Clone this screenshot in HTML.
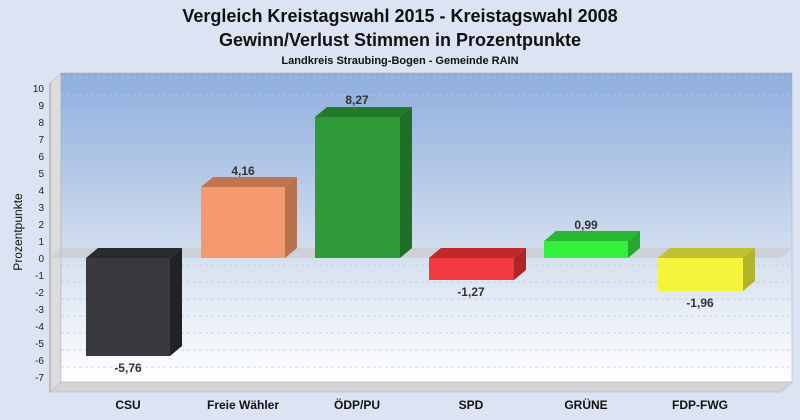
<!DOCTYPE html><html><head><meta charset="utf-8"><style>body{margin:0;background:#dce3f2}svg{display:block;font-family:"Liberation Sans",Arial,sans-serif}</style></head><body>
<svg width="800" height="420" viewBox="0 0 800 420">
<defs><linearGradient id="bg" x1="0" y1="0" x2="0" y2="1"><stop offset="0" stop-color="#8daddd"/><stop offset="0.6" stop-color="#d5e0f0"/><stop offset="1" stop-color="#ffffff"/></linearGradient></defs>
<rect width="800" height="420" fill="#dce3f2"/>
<text x="400" y="22" text-anchor="middle" font-size="18" font-weight="bold" fill="#111">Vergleich Kreistagswahl 2015 - Kreistagswahl 2008</text>
<text x="400" y="46" text-anchor="middle" font-size="18" font-weight="bold" fill="#111">Gewinn/Verlust Stimmen in Prozentpunkte</text>
<text x="400" y="64" text-anchor="middle" font-size="11" font-weight="bold" fill="#111">Landkreis Straubing-Bogen - Gemeinde RAIN</text>
<polygon points="50,83 61,73 61,382 50,392" fill="#dcdcdc" stroke="#aaa" stroke-width="0.5"/>
<rect x="61" y="73" width="731" height="309" fill="url(#bg)" stroke="#aab" stroke-width="0.5"/>
<polygon points="50,392 61,382 792,382 781,392" fill="#d4d4d4" stroke="#aaa" stroke-width="0.5"/>
<g stroke="#c4c8d0" stroke-dasharray="3,3" stroke-width="0.7">
<line x1="61" y1="78" x2="792" y2="78"/><line x1="61" y1="95" x2="792" y2="95"/><line x1="61" y1="112" x2="792" y2="112"/><line x1="61" y1="129" x2="792" y2="129"/><line x1="61" y1="146" x2="792" y2="146"/><line x1="61" y1="163" x2="792" y2="163"/><line x1="61" y1="180" x2="792" y2="180"/><line x1="61" y1="197" x2="792" y2="197"/><line x1="61" y1="214" x2="792" y2="214"/><line x1="61" y1="231" x2="792" y2="231"/><line x1="61" y1="265" x2="792" y2="265"/><line x1="61" y1="282" x2="792" y2="282"/><line x1="61" y1="299" x2="792" y2="299"/><line x1="61" y1="316" x2="792" y2="316"/><line x1="61" y1="333" x2="792" y2="333"/><line x1="61" y1="350" x2="792" y2="350"/><line x1="61" y1="367" x2="792" y2="367"/>
</g>
<polygon points="50,258 61,248 792,248 781,258" fill="#c8c8c8" opacity="0.6"/>
<line x1="50" y1="83" x2="50" y2="392" stroke="#999"/>
<g font-size="10" fill="#222" text-anchor="end">
<text x="44" y="92">10</text><text x="44" y="109">9</text><text x="44" y="126">8</text><text x="44" y="143">7</text><text x="44" y="160">6</text><text x="44" y="177">5</text><text x="44" y="194">4</text><text x="44" y="211">3</text><text x="44" y="228">2</text><text x="44" y="245">1</text><text x="44" y="262">0</text><text x="44" y="279">-1</text><text x="44" y="296">-2</text><text x="44" y="313">-3</text><text x="44" y="330">-4</text><text x="44" y="347">-5</text><text x="44" y="364">-6</text><text x="44" y="381">-7</text>
</g>
<text transform="translate(22,232) rotate(-90)" text-anchor="middle" font-size="12" fill="#111">Prozentpunkte</text>
<g>
<polygon points="86,258 98,248 182,248 170,258" fill="#2a2a2e"/><polygon points="170,258 182,248 182,346 170,356" fill="#222226"/><rect x="86" y="258" width="84" height="98" fill="#38393d"/>
<polygon points="201,187 213,177 297,177 285,187" fill="#c07550"/><polygon points="285,187 297,177 297,248 285,258" fill="#b8724e"/><rect x="201" y="187" width="84" height="71" fill="#f59a6e"/>
<polygon points="315,117 327,107 412,107 400,117" fill="#237a2a"/><polygon points="400,117 412,107 412,248 400,258" fill="#1f6f26"/><rect x="315" y="117" width="85" height="141" fill="#2f9a38"/>
<polygon points="429,258 441,248 526,248 514,258" fill="#c0282c"/><polygon points="514,258 526,248 526,270 514,280" fill="#b02428"/><rect x="429" y="258" width="85" height="22" fill="#f03a3e"/>
<polygon points="544,241 556,231 640,231 628,241" fill="#28b830"/><polygon points="628,241 640,231 640,248 628,258" fill="#26a82e"/><rect x="544" y="241" width="84" height="17" fill="#33f03c"/>
<polygon points="658,258 670,248 755,248 743,258" fill="#c0c030"/><polygon points="743,258 755,248 755,281 743,291" fill="#b4b42c"/><rect x="658" y="258" width="85" height="33" fill="#f4f43c"/>
</g>
<g font-size="12" font-weight="bold" fill="#333" text-anchor="middle">
<text x="128" y="372">-5,76</text><text x="243" y="175">4,16</text><text x="357" y="104">8,27</text><text x="471" y="296">-1,27</text><text x="586" y="229">0,99</text><text x="700" y="307">-1,96</text>
</g>
<g font-size="12" font-weight="bold" fill="#111" text-anchor="middle">
<text x="128" y="409">CSU</text><text x="243" y="409">Freie Wähler</text><text x="357" y="409">ÖDP/PU</text><text x="471" y="409">SPD</text><text x="586" y="409">GRÜNE</text><text x="700" y="409">FDP-FWG</text>
</g>
</svg></body></html>
